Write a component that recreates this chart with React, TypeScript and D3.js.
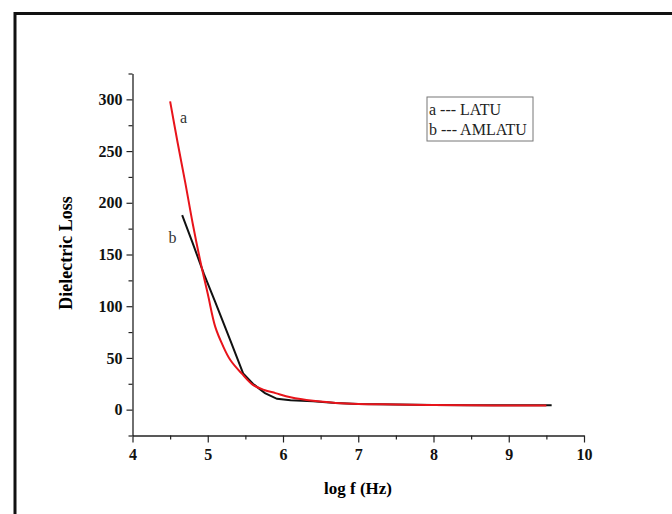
// @ts-nocheck
import React, { useEffect, useRef } from 'react';
import * as d3 from 'd3';

// series a (LATU)
const aLogF = [4.5, 4.6, 4.7, 4.8, 4.9, 5.0, 5.1, 5.2, 5.3, 5.45, 5.6, 5.75, 5.9, 6.1, 6.4, 6.7, 7.0, 7.5, 8.0, 8.5, 9.0, 9.5];
const aLoss = [298, 258, 220, 180, 144, 112, 80, 62, 48, 35, 24, 19, 16, 12, 8.5, 6.5, 5.5, 5, 4.5, 4.2, 4, 4];

// series b (AMLATU)
const bLogF = [4.66, 4.8, 4.95, 5.1, 5.3, 5.47, 5.6, 5.76, 5.92, 6.1, 6.4, 6.7, 7.0, 7.5, 8.0, 8.5, 9.0, 9.57];
const bLoss = [188, 161, 131, 104, 67, 35, 25, 16, 10.5, 9, 8, 6.5, 5.5, 5, 4.5, 4.2, 4.2, 4.2];

const xTicks = [4, 5, 6, 7, 8, 9, 10];
const xMinor = [4.5, 5.5, 6.5, 7.5, 8.5, 9.5];
const yTicks = [0, 50, 100, 150, 200, 250, 300];
const yMinor = [-25, 25, 75, 125, 175, 225, 275, 325];

const legendLines = ['a --- LATU', 'b --- AMLATU'];

const W = 672, H = 514;
const font = '"Liberation Serif", "Times New Roman", serif';

export default function App() {
    const ref = useRef(null);

    useEffect(() => {
        const svg = d3.select(ref.current);
        svg.selectAll('*').remove();

        const x = d3.scaleLinear().domain([4, 10]).range([132.5, 584]);
        const y = d3.scaleLinear().domain([-25, 325]).range([435.5, 73.5]);

        svg.append('rect').attr('width', W).attr('height', H).attr('fill', 'white');

        // outer frame
        svg.append('rect')
            .attr('x', 15).attr('y', 13.5)
            .attr('width', 800).attr('height', 700)
            .attr('fill', 'none').attr('stroke', '#111').attr('stroke-width', 3);

        // x axis
        const gx = svg.append('g').attr('transform', `translate(0,${y(-25)})`);
        gx.call(d3.axisBottom(x).tickValues(xTicks).tickSize(7).tickSizeOuter(0).tickPadding(6).tickFormat(d3.format('d')));
        gx.append('g').call(d3.axisBottom(x).tickValues(xMinor).tickSize(4).tickFormat(() => ''))
            .select('.domain').remove();

        // y axis
        const gy = svg.append('g').attr('transform', `translate(${x(4)},0)`);
        gy.call(d3.axisLeft(y).tickValues(yTicks).tickSize(6).tickSizeOuter(0).tickPadding(4).tickFormat(d3.format('d')));
        gy.append('g').call(d3.axisLeft(y).tickValues(yMinor).tickSize(4).tickFormat(() => ''))
            .select('.domain').remove();

        svg.selectAll('.domain').attr('stroke', '#222').attr('stroke-width', 1.3);
        svg.selectAll('.tick line').attr('stroke', '#222').attr('stroke-width', 1.2);
        svg.selectAll('.tick text')
            .attr('font-family', font).attr('font-size', 16).attr('font-weight', 'bold').attr('fill', '#111');

        // axis titles
        svg.append('text')
            .attr('transform', `translate(72,253) rotate(-90)`)
            .attr('text-anchor', 'middle')
            .attr('font-family', font).attr('font-size', 18).attr('font-weight', 'bold')
            .text('Dielectric Loss');
        svg.append('text')
            .attr('x', 358).attr('y', 494)
            .attr('text-anchor', 'middle')
            .attr('font-family', font).attr('font-size', 17).attr('font-weight', 'bold')
            .text('log f (Hz)');

        // lines
        const bData = bLogF.map((v, i) => [v, bLoss[i]]);
        const aData = aLogF.map((v, i) => [v, aLoss[i]]);

        svg.append('path')
            .datum(bData)
            .attr('fill', 'none').attr('stroke', '#111').attr('stroke-width', 2)
            .attr('d', d3.line().x(d => x(d[0])).y(d => y(d[1])));

        svg.append('path')
            .datum(aData)
            .attr('fill', 'none').attr('stroke', '#e8141b').attr('stroke-width', 2)
            .attr('d', d3.line().curve(d3.curveCatmullRom).x(d => x(d[0])).y(d => y(d[1])));

        // curve labels
        svg.append('text').attr('x', x(4.63)).attr('y', y(277))
            .attr('font-family', font).attr('font-size', 16).attr('fill', '#333').text('a');
        svg.append('text').attr('x', x(4.48)).attr('y', y(161))
            .attr('font-family', font).attr('font-size', 16).attr('fill', '#333').text('b');

        // legend box
        svg.append('rect')
            .attr('x', 427).attr('y', 97).attr('width', 106).attr('height', 44)
            .attr('fill', 'white').attr('stroke', '#777').attr('stroke-width', 1);
        svg.selectAll('.leg')
            .data(legendLines)
            .join('text')
            .attr('class', 'leg')
            .attr('x', 429).attr('y', (d, i) => 115 + i * 20)
            .attr('font-family', font).attr('font-size', 16).attr('fill', '#222')
            .text(d => d);
    }, []);

    return (
        <svg ref={ref} width={W} height={H}
            style={{ position: 'absolute', left: 0, top: 0, display: 'block' }} />
    );
}
